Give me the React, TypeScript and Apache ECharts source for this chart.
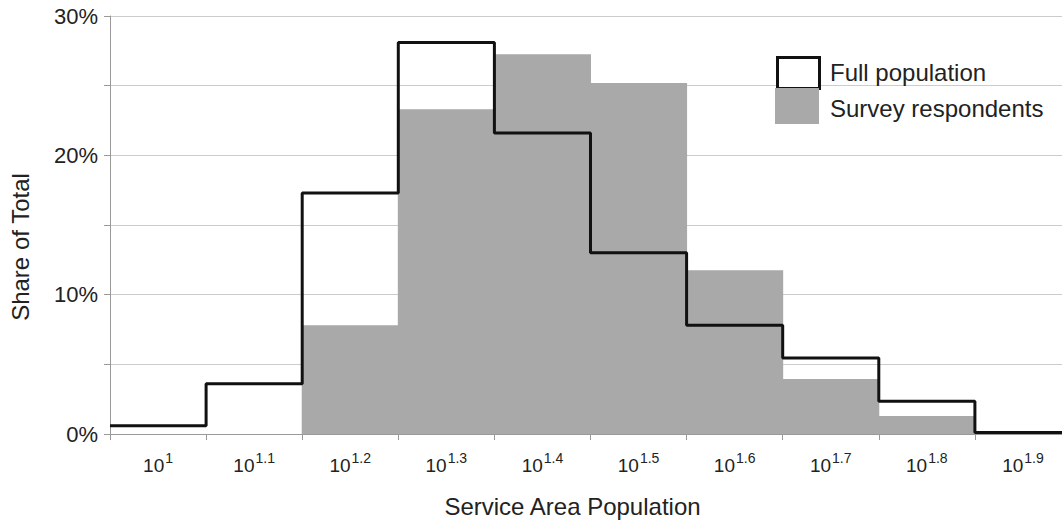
import React, { useEffect, useRef } from "react";
import * as echarts from "echarts";

const categories = ["1", "1.1", "1.2", "1.3", "1.4", "1.5", "1.6", "1.7", "1.8", "1.9"];
const fullPopulation = [0.6, 3.6, 17.3, 28.1, 21.6, 13.0, 7.8, 5.45, 2.35, 0.1];
const surveyRespondents = [0, 0, 7.8, 23.3, 27.25, 25.2, 11.75, 3.95, 1.3, 0];
const yLabelTicks = [0, 10, 20, 30];

const FONT = "'Liberation Sans', Arial, Helvetica, sans-serif";
const GREY = "#a9a9a9";

export default function App() {
  const ref = useRef<HTMLDivElement>(null);

  useEffect(() => {
    if (!ref.current) return;
    const chart = echarts.init(ref.current, null, { renderer: "svg" });
    const stepData: number[][] = fullPopulation.map((v, i) => [i, v]);
    stepData.push([fullPopulation.length, fullPopulation[fullPopulation.length - 1]]);

    chart.setOption({
      animation: false,
      backgroundColor: "#ffffff",
      textStyle: { fontFamily: FONT },
      grid: { left: 107, top: 16, right: 0, height: 424, containLabel: false },
      xAxis: [
        {
          type: "category",
          data: categories,
          boundaryGap: true,
          name: "Service Area Population",
          nameLocation: "middle",
          nameGap: 60,
          nameTextStyle: { fontSize: 24, color: "#222", fontFamily: FONT, padding: [0, 36, 0, 0] },
          axisLine: { show: true, lineStyle: { color: "#9a9a9a", width: 1 } },
          axisTick: { show: true, length: 6, alignWithLabel: false, lineStyle: { color: "#9a9a9a" } },
          axisLabel: {
            margin: 17,
            formatter: (v: string) => `{b|10}{s|${v}}`,
            rich: {
              b: { fontSize: 19, color: "#222", fontFamily: FONT, lineHeight: 24, verticalAlign: "bottom" },
              s: { fontSize: 14, color: "#222", fontFamily: FONT, lineHeight: 24, verticalAlign: "top", padding: [0, 0, 0, 1] },
            },
          },
          splitLine: { show: false },
        },
        { type: "value", min: 0, max: categories.length, show: false },
      ],
      yAxis: {
        type: "value",
        min: 0,
        max: 30,
        interval: 5,
        name: "Share of Total",
        nameLocation: "middle",
        nameGap: 78,
        nameRotate: 90,
        nameTextStyle: { fontSize: 24, color: "#222", fontFamily: FONT, padding: [0, 44, 0, 0] },
        axisLine: { show: true, lineStyle: { color: "#9a9a9a", width: 1 } },
        axisTick: { show: true, length: 6, lineStyle: { color: "#9a9a9a" } },
        axisLabel: {
          margin: 12,
          fontSize: 22,
          color: "#222",
          fontFamily: FONT,
          formatter: (v: number) => (yLabelTicks.includes(v) ? `${v}%` : ""),
        },
        splitLine: { show: true, lineStyle: { color: "#cccccc", width: 1 } },
      },
      series: [
        {
          name: "Survey respondents",
          type: "bar",
          xAxisIndex: 0,
          data: surveyRespondents,
          barWidth: "101%",
          itemStyle: { color: GREY },
          z: 2,
        },
        {
          name: "Full population",
          type: "line",
          xAxisIndex: 1,
          data: stepData,
          step: "end",
          symbol: "none",
          lineStyle: { color: "#111111", width: 3 },
          z: 3,
        },
      ],
      graphic: [
        {
          type: "rect",
          left: 776,
          top: 56,
          shape: { width: 42, height: 31 },
          style: { fill: "#ffffff", stroke: "#111111", lineWidth: 3 },
          z: 10,
        },
        {
          type: "rect",
          left: 775,
          top: 88,
          shape: { width: 44, height: 36 },
          style: { fill: GREY },
          z: 10,
        },
        {
          type: "text",
          left: 830,
          top: 60,
          style: { text: "Full population", fontSize: 24, fill: "#222", fontFamily: FONT },
          z: 10,
        },
        {
          type: "text",
          left: 830,
          top: 96,
          style: { text: "Survey respondents", fontSize: 24, fill: "#222", fontFamily: FONT },
          z: 10,
        },
      ],
    });
    return () => chart.dispose();
  }, []);

  return (
    <div style={{ position: "absolute", left: 0, top: 0, width: 1062, height: 523, overflow: "hidden", background: "#fff" }}>
      <div ref={ref} style={{ width: 1071, height: 523 }} />
    </div>
  );
}
